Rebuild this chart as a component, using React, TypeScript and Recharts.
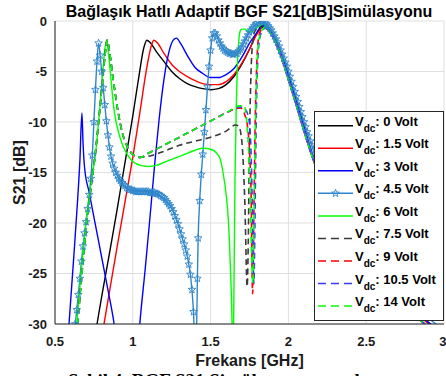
import React from 'react';
import { LineChart, Line, XAxis, YAxis, CartesianGrid } from 'recharts';

type Pt = [number, number];

// ---- axis ticks ----
const xTicks = [0.5, 1, 1.5, 2, 2.5, 3];
const yTicks = [-30, -25, -20, -15, -10, -5, 0];

// ---- series data: [frequency GHz, S21 dB] ----
const vdc0: Pt[] = [
  [0.77, -30], [0.8, -27.3], [0.85, -23], [0.9, -18.6], [0.95, -14], [1.0, -9.4], [1.04, -5.4], [1.07, -2.7],
  [1.09, -1.9], [1.11, -2.1], [1.15, -3.0], [1.2, -4.0], [1.25, -5.0], [1.3, -5.7], [1.35, -6.2], [1.4, -6.5],
  [1.45, -6.7], [1.5, -6.8], [1.55, -6.7], [1.6, -6.3], [1.65, -5.5], [1.7, -4.3], [1.75, -2.8], [1.79, -1.4],
  [1.82, -0.6], [1.84, -0.4], [1.87, -0.7], [1.9, -1.4], [1.95, -3.1], [2.0, -5.4], [2.05, -7.9], [2.1, -10.5],
  [2.15, -13.0], [2.2, -15.1], [2.3, -18.7], [2.45, -22.6], [2.6, -25.6], [2.8, -28.6], [3.0, -31],
];

const vdc15: Pt[] = [
  [0.815, -30], [0.85, -26.8], [0.9, -22.3], [0.95, -17.9], [1.0, -13.5], [1.05, -8.6], [1.09, -4.6], [1.12, -2.4],
  [1.135, -1.9], [1.16, -2.2], [1.2, -3.2], [1.25, -4.3], [1.3, -5.0], [1.35, -5.5], [1.4, -5.9], [1.45, -6.2],
  [1.5, -6.3], [1.55, -6.3], [1.6, -6.0], [1.65, -5.3], [1.7, -4.2], [1.75, -2.8], [1.79, -1.5], [1.82, -0.8],
  [1.84, -0.6], [1.87, -0.8], [1.9, -1.5], [1.95, -3.2], [2.0, -5.5], [2.05, -8.0], [2.1, -10.6], [2.15, -13.1],
  [2.2, -15.2], [2.3, -18.8], [2.45, -22.7], [2.6, -25.7], [2.8, -28.7], [3.0, -31.1],
];

const vdc3: Pt[] = [
  [0.59, -30], [0.62, -23.5], [0.645, -17.8], [0.66, -13.8], [0.673, -9.1], [0.68, -12], [0.69, -14.5], [0.72, -17],
  [0.76, -20.2], [0.8, -23.4], [0.84, -26.6], [0.88, -30], [0.95, -40], [1.0, -40], [1.045, -30], [1.08, -24.5],
  [1.11, -19.5], [1.143, -13.8], [1.17, -9.6], [1.2, -5.8], [1.23, -3.2], [1.26, -1.9], [1.28, -1.7], [1.31, -2.3],
  [1.35, -3.4], [1.4, -4.6], [1.45, -5.2], [1.5, -5.6], [1.55, -5.6], [1.6, -5.3], [1.65, -4.7], [1.7, -3.6],
  [1.75, -2.2], [1.79, -1.3], [1.82, -0.7], [1.84, -0.5], [1.87, -0.7], [1.9, -1.4], [1.95, -3.1], [2.0, -5.4],
  [2.05, -7.9], [2.1, -10.5], [2.15, -13.0], [2.2, -15.1], [2.3, -18.7], [2.45, -22.6], [2.6, -25.6], [2.8, -28.6], [3.0, -31],
];

const vdc45: Pt[] = [
  [0.63, -30], [0.64, -28.6], [0.65, -27.1], [0.66, -25.5], [0.67, -23.8], [0.68, -22.3], [0.69, -21.0], [0.70, -19.9],
  [0.71, -18.6], [0.72, -17.2], [0.73, -15.6], [0.74, -13.3], [0.75, -10.0], [0.76, -6.8], [0.77, -4.0], [0.78, -2.2],
  [0.79, -3.4], [0.80, -5.0], [0.81, -6.6], [0.82, -8.3], [0.83, -9.9], [0.84, -11.3], [0.85, -12.5], [0.86, -13.4],
  [0.87, -14.1], [0.88, -14.6], [0.89, -15.0], [0.90, -15.3], [0.91, -15.6], [0.92, -15.8], [0.93, -16.0], [0.94, -16.2],
  [0.95, -16.3], [0.96, -16.5], [0.97, -16.6], [0.98, -16.7], [0.99, -16.7], [1.00, -16.8], [1.01, -16.8], [1.02, -16.9],
  [1.03, -16.9], [1.04, -16.9], [1.05, -16.9], [1.06, -16.9], [1.07, -16.9], [1.08, -16.9], [1.09, -16.9], [1.10, -16.9],
  [1.11, -17.0], [1.12, -17.0], [1.13, -17.0], [1.14, -17.0], [1.15, -17.1], [1.16, -17.1], [1.17, -17.2], [1.18, -17.3],
  [1.19, -17.4], [1.20, -17.5], [1.21, -17.7], [1.22, -17.9], [1.23, -18.1], [1.24, -18.3], [1.25, -18.6], [1.26, -18.9],
  [1.27, -19.3], [1.28, -19.7], [1.29, -20.1], [1.30, -20.6], [1.31, -21.1], [1.32, -21.6], [1.33, -22.1], [1.34, -22.7],
  [1.35, -23.3], [1.36, -24.1], [1.37, -25.1], [1.38, -26.6], [1.39, -28.8], [1.40, -32.5], [1.41, -30.5], [1.415, -25.5],
  [1.42, -21.5], [1.43, -17.8], [1.44, -15.2], [1.45, -13.2], [1.46, -11.0], [1.47, -8.8], [1.48, -6.5], [1.49, -4.5],
  [1.50, -2.9], [1.51, -1.7], [1.52, -1.2], [1.53, -1.2], [1.54, -1.5], [1.55, -1.9], [1.56, -2.2], [1.57, -2.5],
  [1.58, -2.7], [1.59, -2.9], [1.60, -3.0], [1.61, -3.1], [1.62, -3.2], [1.63, -3.2], [1.64, -3.3], [1.65, -3.3],
  [1.66, -3.2], [1.67, -3.2], [1.68, -3.0], [1.69, -2.8], [1.70, -2.6], [1.71, -2.3], [1.72, -2.0], [1.73, -1.7],
  [1.74, -1.4], [1.75, -1.1], [1.76, -0.9], [1.77, -0.7], [1.78, -0.5], [1.79, -0.3], [1.80, -0.2], [1.81, -0.1],
  [1.82, 0], [1.83, 0], [1.84, 0], [1.85, -0.1], [1.86, -0.3], [1.87, -0.5], [1.88, -0.7], [1.89, -0.9],
  [1.90, -1.2], [1.91, -1.5], [1.92, -1.8], [1.93, -2.1], [1.94, -2.5], [1.95, -2.9], [1.96, -3.3], [1.97, -3.7],
  [1.98, -4.1], [1.99, -4.5], [2.00, -5.0], [2.01, -5.5], [2.02, -6.0], [2.03, -6.5], [2.04, -7.0], [2.05, -7.5],
  [2.06, -8.0], [2.07, -8.5], [2.08, -9.0], [2.09, -9.5], [2.10, -10.0], [2.11, -10.5], [2.12, -11.0], [2.13, -11.4],
  [2.14, -11.9], [2.15, -12.3], [2.16, -12.8], [2.17, -13.2], [2.18, -13.6], [2.25, -16.5], [2.4, -21.0], [2.6, -25.2],
  [2.8, -28.2], [3.0, -30.6],
];

const vdc6: Pt[] = [
  [0.64, -30], [0.66, -26.3], [0.68, -22.8], [0.70, -19.8], [0.72, -17.3], [0.74, -15.2], [0.76, -13.2], [0.78, -10.0],
  [0.80, -6.6], [0.815, -3.6], [0.83, -1.9], [0.845, -3.4], [0.86, -5.8], [0.875, -8.2], [0.89, -9.8], [0.91, -11.1],
  [0.93, -12.1], [0.96, -13.1], [1.0, -13.9], [1.05, -14.3], [1.1, -14.4], [1.15, -14.3], [1.2, -14.0], [1.25, -13.7],
  [1.3, -13.4], [1.35, -13.1], [1.4, -12.8], [1.45, -12.6], [1.5, -12.7], [1.54, -13.1], [1.56, -13.6], [1.58, -15],
  [1.6, -17.2], [1.61, -18.8], [1.62, -21.5], [1.63, -25.5], [1.638, -30], [1.644, -36], [1.648, -30], [1.657, -15.4],
  [1.665, -8.5], [1.672, -4.5], [1.68, -2.2], [1.69, -1.0], [1.70, -0.8], [1.72, -0.8], [1.74, -1.0], [1.76, -1.1],
  [1.78, -0.9], [1.81, -0.5], [1.84, -0.3], [1.87, -0.8], [1.9, -1.6], [1.95, -3.4], [2.0, -5.8], [2.05, -8.3],
  [2.1, -10.9], [2.15, -13.3], [2.2, -15.4], [2.3, -19], [2.45, -23], [2.6, -26], [2.8, -29], [3.0, -31.5],
];

// shared low-frequency part of the dashed (7.5 / 9 / 10.5 / 14 V) curves
const dashedLow: Pt[] = [
  [0.645, -30], [0.67, -25.5], [0.70, -20.5], [0.73, -16.6], [0.76, -13.0], [0.78, -10.0], [0.80, -6.8], [0.82, -3.6],
  [0.835, -1.9], [0.85, -3.0], [0.87, -5.3], [0.89, -7.5], [0.91, -9.4], [0.93, -10.9], [0.96, -12.3], [1.0, -13.2],
  [1.05, -13.5],
];
// shared high-frequency roll-off of the dashed curves
const dashedTail: Pt[] = [
  [1.87, -0.9], [1.9, -1.6], [1.95, -3.4], [2.0, -5.8], [2.05, -8.3], [2.1, -10.9], [2.15, -13.3], [2.2, -15.4],
  [2.3, -19], [2.45, -23], [2.6, -26], [2.8, -29], [3.0, -31.5],
];

const vdc75Mid: Pt[] = [
  [1.1, -13.4], [1.2, -12.9], [1.3, -12.3], [1.4, -11.9], [1.5, -11.5], [1.6, -10.9], [1.66, -10.3], [1.68, -10.4],
  [1.70, -11.8], [1.72, -18], [1.735, -26.3], [1.742, -22], [1.75, -12], [1.76, -5], [1.77, -2.1], [1.785, -1.0],
  [1.81, -0.7], [1.84, -0.6],
];
const vdc9Mid: Pt[] = [
  [1.1, -13.1], [1.2, -12.3], [1.3, -11.5], [1.4, -10.7], [1.5, -9.9], [1.6, -9.1], [1.69, -8.6], [1.72, -9.3],
  [1.74, -10.8], [1.76, -17], [1.77, -27], [1.778, -19], [1.785, -11.3], [1.795, -5], [1.81, -1.5], [1.83, -0.8],
  [1.85, -0.7],
];
const vdc105Mid: Pt[] = [
  [1.1, -13.1], [1.2, -12.3], [1.3, -11.5], [1.4, -10.7], [1.5, -9.9], [1.6, -9.1], [1.69, -8.5], [1.72, -8.7],
  [1.745, -9.6], [1.76, -13], [1.77, -20], [1.778, -26], [1.785, -20], [1.792, -11], [1.8, -5], [1.815, -1.8],
  [1.835, -0.9], [1.855, -0.7],
];
const vdc14Mid: Pt[] = [
  [1.1, -13.1], [1.2, -12.3], [1.3, -11.5], [1.4, -10.7], [1.5, -9.9], [1.6, -9.1], [1.69, -8.4], [1.715, -8.4],
  [1.735, -10.5], [1.752, -16], [1.765, -24], [1.772, -26], [1.78, -18], [1.79, -9], [1.8, -3.8], [1.815, -1.5],
  [1.835, -0.8], [1.855, -0.6],
];

const legendLabels = ['0 Volt', '1.5 Volt', '3 Volt', '4.5 Volt', '6 Volt', '7.5 Volt', '9 Volt', '10.5 Volt', '14 Volt'];

const series = [
  { label: legendLabels[0], color: '#000000', dashed: false, star: false, pts: vdc0 },
  { label: legendLabels[1], color: '#ff0000', dashed: false, star: false, pts: vdc15 },
  { label: legendLabels[2], color: '#0000ff', dashed: false, star: false, pts: vdc3 },
  { label: legendLabels[3], color: '#2f86cc', dashed: false, star: true, pts: vdc45 },
  { label: legendLabels[4], color: '#00ff00', dashed: false, star: false, pts: vdc6 },
  { label: legendLabels[5], color: '#3a3a3a', dashed: true, star: false, pts: [...dashedLow, ...vdc75Mid, ...dashedTail] },
  { label: legendLabels[6], color: '#ff0000', dashed: true, star: false, pts: [...dashedLow, ...vdc9Mid, ...dashedTail] },
  { label: legendLabels[7], color: '#3a3aff', dashed: true, star: false, pts: [...dashedLow, ...vdc105Mid, ...dashedTail] },
  { label: legendLabels[8], color: '#00ff00', dashed: true, star: false, pts: [...dashedLow, ...vdc14Mid, ...dashedTail] },
];

const toRows = (pts: Pt[]) => pts.map(([f, s]) => ({ f, s }));

const SANS = '"Liberation Sans", Arial, Helvetica, sans-serif';
const SERIF = '"Liberation Serif", "Times New Roman", serif';
const AX = '#262626';

function starPath(cx: number, cy: number, ro: number, ri: number) {
  let d = '';
  for (let k = 0; k < 10; k++) {
    const r = k % 2 === 0 ? ro : ri;
    const a = (-90 + k * 36) * Math.PI / 180;
    d += (k === 0 ? 'M' : 'L') + (cx + r * Math.cos(a)).toFixed(2) + ',' + (cy + r * Math.sin(a)).toFixed(2);
  }
  return d + 'Z';
}

const StarDot = (color: string) => (p: any) => {
  const { cx, cy, index } = p;
  if (cx == null || cy == null || isNaN(cx) || isNaN(cy)) return <g key={`s${index}`} />;
  return <path key={`s${index}`} d={starPath(cx, cy, 4, 1.7)} fill="none" stroke={color} strokeWidth={0.9} />;
};

const LegendBox = () => {
  const x0 = 314.5, y0 = 111.5, w = 129, h = 209;
  return (
    <g>
      <rect x={x0} y={y0} width={w} height={h} fill="#ffffff" stroke={AX} strokeWidth={1} />
      {series.map((s, i) => {
        const y = 125.7 + i * 22.55;
        return (
          <g key={s.label}>
            <line x1={318} x2={353} y1={y} y2={y} stroke={s.color} strokeWidth={1.5}
              strokeDasharray={s.dashed ? '8 5' : undefined} />
            {s.star && <path d={starPath(335.5, y, 4, 1.7)} fill="none" stroke={s.color} strokeWidth={0.9} />}
            <text x={355} y={y} fontFamily={SANS} fontWeight="bold" fontSize={13} fill="#000">
              V<tspan dy={6} fontSize={10}>dc</tspan><tspan dy={-6}>: {s.label}</tspan>
            </text>
          </g>
        );
      })}
    </g>
  );
};

export default function App() {
  return (
    <div style={{ position: 'absolute', left: 0, top: 0, width: 446, height: 376, background: '#fff', overflow: 'hidden' }}>
      <LineChart width={446} height={376} margin={{ top: 21, right: 2, left: 0, bottom: 0 }}>
        <CartesianGrid stroke="#dfdfdf" strokeWidth={1} />
        <XAxis dataKey="f" type="number" domain={[0.5, 3]} ticks={xTicks} allowDataOverflow height={52}
          tickLine={false} tickSize={6} tickMargin={7} stroke={AX}
          tick={{ fill: '#1a1a1a', fontSize: 13, fontWeight: 'bold', fontFamily: SANS }} />
        <XAxis xAxisId="top" orientation="top" type="number" domain={[0.5, 3]} ticks={xTicks} height={0}
          tick={false} tickLine={false} stroke={AX} />
        <YAxis type="number" domain={[-30, 0]} ticks={yTicks} allowDataOverflow width={55}
          tickLine={false} tickSize={6} tickMargin={2} stroke={AX}
          tick={{ fill: '#1a1a1a', fontSize: 13, fontWeight: 'bold', fontFamily: SANS }} />
        <YAxis yAxisId="right" orientation="right" type="number" domain={[-30, 0]} ticks={yTicks} width={0}
          tick={false} tickLine={false} stroke={AX} />
        {series.map((s) => (
          <Line key={s.label} data={toRows(s.pts)} dataKey="s" type="monotone" stroke={s.color}
            strokeWidth={s.dashed ? 1.6 : 1.4} strokeDasharray={s.dashed ? '6 4' : undefined}
            dot={s.star ? StarDot(s.color) : false} activeDot={false} isAnimationActive={false} />
        ))}
      </LineChart>
      <svg width={446} height={376} style={{ position: 'absolute', left: 0, top: 0, pointerEvents: 'none' }}>
        <text x={249} y={17} textAnchor="middle" fontFamily={SANS} fontWeight="bold" fontSize={16} fill="#000">
          Bağlaşık Hatlı Adaptif BGF S21[dB]Simülasyonu
        </text>
        <text x={249.5} y={366} textAnchor="middle" fontFamily={SANS} fontWeight="bold" fontSize={16} fill="#1a1a1a">
          Frekans [GHz]
        </text>
        <text transform="translate(25,172.5) rotate(-90)" textAnchor="middle" fontFamily={SANS} fontWeight="bold" fontSize={16} fill="#1a1a1a">
          S21 [dB]
        </text>
        <LegendBox />
        <text x={68} y={387} fontFamily={SERIF} fontWeight="bold" fontSize={19} fill="#000">
          Şekil 4. BGF S21 Simülasyon sonuçları
        </text>
      </svg>
    </div>
  );
}
